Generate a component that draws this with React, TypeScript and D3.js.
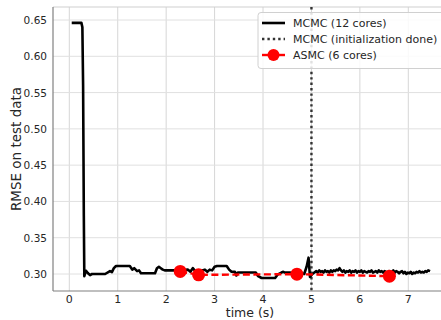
import React from "react";
import * as d3 from "d3";

const mcmcT = [0.05,0.25,0.27,0.285,0.30,0.31,0.345,0.386,0.428,0.469,0.53,0.74,0.84,0.88,0.92,0.965,1.006,1.25,1.30,1.34,1.40,1.44,1.48,1.77,1.81,1.85,1.89,1.93,1.97,2.05,2.15,2.3,2.45,2.5,2.55,2.6,2.7,2.8,2.85,2.9,2.95,3.0,3.05,3.25,3.3,3.35,3.42,3.45,3.48,3.6,3.85,3.9,3.97,4.25,4.3,4.38,4.42,4.45,4.55,4.7,4.85,4.9,4.94,4.97,5.02,5.06,
5.1,5.13,5.16,5.19,5.22,5.25,5.28,5.31,5.34,5.37,5.40,5.43,5.46,5.49,5.52,5.55,5.58,5.61,5.64,5.67,5.70,5.73,5.76,5.79,5.82,5.85,5.88,5.91,5.94,5.97,6.00,6.03,6.06,6.09,6.12,6.15,6.18,6.21,6.24,6.27,6.30,6.33,6.36,6.39,6.42,6.45,6.48,6.51,6.54,6.57,6.60,6.63,6.66,6.69,6.72,6.75,6.78,6.81,6.84,6.87,6.90,6.93,6.96,6.99,7.02,7.05,7.08,7.11,7.14,7.17,7.20,7.23,7.26,7.29,7.32,7.35,7.38,7.41,7.45];
const mcmcV = [0.646,0.646,0.640,0.56,0.38,0.297,0.3045,0.301,0.2985,0.300,0.300,0.300,0.304,0.3027,0.308,0.311,0.311,0.311,0.306,0.308,0.304,0.305,0.301,0.301,0.308,0.310,0.308,0.306,0.305,0.305,0.305,0.305,0.306,0.303,0.308,0.304,0.304,0.306,0.303,0.306,0.305,0.310,0.311,0.311,0.306,0.303,0.303,0.298,0.302,0.302,0.302,0.297,0.2945,0.2945,0.299,0.302,0.303,0.302,0.302,0.301,0.300,0.310,0.3225,0.296,0.300,0.302,
0.304,0.302,0.305,0.303,0.304,0.302,0.305,0.303,0.304,0.302,0.305,0.303,0.305,0.304,0.306,0.305,0.308,0.305,0.303,0.305,0.302,0.304,0.303,0.305,0.302,0.304,0.303,0.305,0.302,0.304,0.303,0.305,0.302,0.304,0.303,0.302,0.304,0.303,0.305,0.302,0.303,0.304,0.302,0.305,0.303,0.304,0.302,0.304,0.303,0.301,0.304,0.302,0.303,0.305,0.302,0.304,0.303,0.301,0.303,0.304,0.301,0.303,0.300,0.302,0.301,0.303,0.300,0.302,0.301,0.303,0.302,0.304,0.302,0.303,0.302,0.304,0.303,0.305,0.304];

const asmcT = [2.29, 2.67, 4.70, 6.61];
const asmcV = [0.3035, 0.2988, 0.2998, 0.297];

const initDone = 5.0;
const xTicks = [0, 1, 2, 3, 4, 5, 6, 7];
const yTicks = [0.30, 0.35, 0.40, 0.45, 0.50, 0.55, 0.60, 0.65];

const legendLabels = ["MCMC (12 cores)", "MCMC (initialization done)", "ASMC (6 cores)"];

export default function App() {
  const W = 441, H = 320;
  const left = 53, bottom = 291, top = 7, right = 446;
  const x = d3.scaleLinear().domain([0, 7]).range([69.3, 408.3]);
  const y = d3.scaleLinear().domain([0.30, 0.65]).range([274, 20]);
  const line = d3.line<number>().x((_, i) => x(mcmcT[i])).y((d) => y(d));
  const aline = d3.line<number>().x((_, i) => x(asmcT[i])).y((d) => y(d));
  const font = "DejaVu Sans, sans-serif";
  return (
    <svg width={W} height={H} style={{ position: "absolute", left: 0, top: 0, background: "#fff" }} fontFamily={font}>
      <defs>
        <clipPath id="plot">
          <rect x={left} y={top} width={right - left} height={bottom - top} />
        </clipPath>
      </defs>
      {xTicks.map((t) => (
        <line key={"gx" + t} x1={x(t)} x2={x(t)} y1={top} y2={bottom} stroke="#d6d6d6" strokeWidth={1} />
      ))}
      {yTicks.map((t) => (
        <line key={"gy" + t} x1={left} x2={right} y1={y(t)} y2={y(t)} stroke="#e0e0e0" strokeWidth={1} />
      ))}
      <line x1={left} x2={right} y1={top} y2={top} stroke="#cfcfcf" strokeWidth={1} />
      <line x1={left} x2={left} y1={top} y2={bottom} stroke="#808080" strokeWidth={1.2} />
      <line x1={left} x2={right} y1={bottom} y2={bottom} stroke="#808080" strokeWidth={1.2} />
      <g clipPath="url(#plot)">
        <line x1={x(initDone)} x2={x(initDone)} y1={top} y2={bottom} stroke="#333" strokeWidth={2.4} strokeDasharray="2.4,3" />
        <path d={line(mcmcV) || ""} fill="none" stroke="#000" strokeWidth={2.6} strokeLinejoin="round" />
        <path d={aline(asmcV) || ""} fill="none" stroke="#ff0000" strokeWidth={2.4} strokeDasharray="7,3.5" />
        {asmcV.map((v, i) => (
          <circle key={"m" + i} cx={x(asmcT[i])} cy={y(v)} r={6.5} fill="#ff0000" />
        ))}
      </g>
      {xTicks.map((t) => (
        <text key={"tx" + t} x={x(t)} y={302.5} textAnchor="middle" fontSize={11} fill="#262626">{t}</text>
      ))}
      {yTicks.map((t) => (
        <text key={"ty" + t} x={47} y={y(t) + 4} textAnchor="end" fontSize={10.5} fill="#262626">{t.toFixed(2)}</text>
      ))}
      <text x={250} y={317} textAnchor="middle" fontSize={12.5} fill="#262626">time (s)</text>
      <text transform={`translate(21,149) rotate(-90)`} textAnchor="middle" fontSize={13.5} fill="#262626">RMSE on test data</text>
      <g>
        <rect x={258} y={12.5} width={190} height={56} rx={3} fill="#fff" fillOpacity={0.85} stroke="#d0d0d0" strokeWidth={1} />
        <line x1={262} x2={285} y1={23} y2={23} stroke="#000" strokeWidth={2.6} />
        <line x1={262} x2={285} y1={39} y2={39} stroke="#333" strokeWidth={2.4} strokeDasharray="2.4,3" />
        <line x1={262} x2={285} y1={55} y2={55} stroke="#ff0000" strokeWidth={2.4} />
        <circle cx={273.5} cy={55} r={6} fill="#ff0000" />
        {legendLabels.map((l, i) => (
          <text key={l} x={293} y={27 + i * 16} fontSize={11} fill="#262626">{l}</text>
        ))}
      </g>
    </svg>
  );
}
